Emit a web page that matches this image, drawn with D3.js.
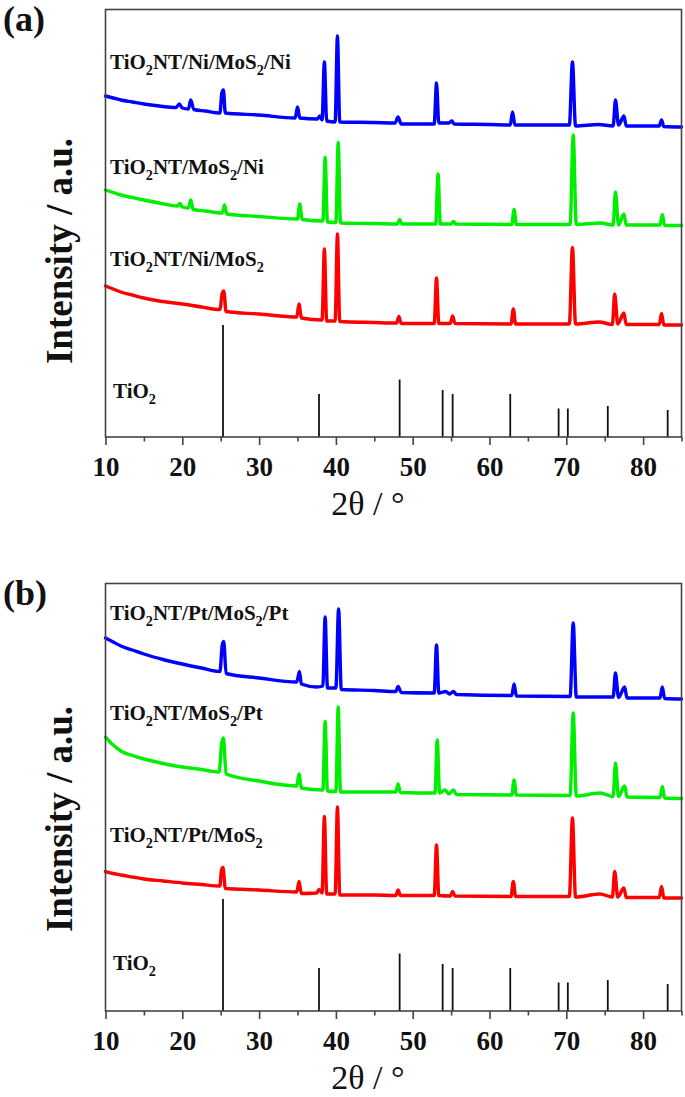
<!DOCTYPE html>
<html><head><meta charset="utf-8">
<script src="https://cdn.jsdelivr.net/npm/d3@7"></script>
<style>body{margin:0;background:#fff}svg{display:block}</style>
</head><body>
<svg id="chart" width="685" height="1097"></svg>
<script>
// ---------- data ----------
const xTicks = [10, 20, 30, 40, 50, 60, 70, 80];
const xMinorTicks = [15, 25, 35, 45, 55, 65, 75, 85];
const xTitle = "2θ / °";
const yTitle = "Intensity / a.u.";
const panelTags = ["(a)", "(b)"];
const refName = "TiO_2";
// anatase TiO2 reference sticks [2θ, intensity]
const tio2Ref = [[25.3,112],[37.8,43],[48.3,57.5],[53.9,47],[55.2,43],[62.7,43],[69.0,28.5],[70.2,28.5],[75.4,31],[83.2,27]];

// panel (a)
const namesA = ["TiO_2NT/Ni/MoS_2/Ni", "TiO_2NT/MoS_2/Ni", "TiO_2NT/Ni/MoS_2"];
const aBlue = [[10,341],[11,339],[12,337],[13.5,335],[15,333],[17,331],[19.2,329.5],[19.6,333],[20.0,329],[20.8,328],[21.1,337],[21.5,327.5],[23,326],[24.9,324],[25.15,344],[25.35,347],[25.6,324],[30,322],[34.7,319],[35.0,330],[35.3,319],[37.6,318],[37.9,321],[38.2,317],[38.5,375],[38.8,316],[39.9,315],[40.2,401],[40.5,315],[45,314.5],[47.7,314],[48.1,320],[48.5,313],[52.8,313],[53.1,354],[53.4,314],[54.7,314],[55.1,316],[55.4,313],[60,312.5],[62.7,312],[63.0,325],[63.3,312],[70.4,312],[70.8,375],[71.2,311],[74.2,312.5],[76.1,311],[76.4,337],[76.8,312],[77.5,321],[77.8,311],[82.1,311],[82.4,317],[82.7,310.5],[85,310]];
const aGreen = [[10,247],[11,244.5],[12,242],[13.5,239.5],[15,237],[17,234],[19.4,231],[19.7,233.5],[20.0,230],[20.8,229],[21.1,237],[21.4,227.5],[23,226],[25.2,224],[25.5,232],[25.8,223],[30,220.5],[35.0,218],[35.3,233],[35.6,217.5],[38.3,216],[38.6,279.5],[38.9,215],[40.0,214.5],[40.3,294.5],[40.6,214],[45,213.5],[48.0,213],[48.3,217.5],[48.6,213],[53.0,213],[53.3,263],[53.6,213],[55.0,213],[55.3,215.5],[55.6,213],[62.9,212.5],[63.2,227.5],[63.5,212.5],[70.5,212.5],[70.9,302],[71.3,212.5],[74.4,214],[76.1,212],[76.4,245],[76.8,212],[77.5,223],[77.8,212],[82.2,212],[82.5,222.5],[82.8,211.5],[85,211.5]];
const aRed = [[10,151],[11,148],[12,145],[13.5,142],[15,139],[17,136],[20,133],[22.5,130],[24.9,127.5],[25.2,144],[25.4,146],[25.7,125.5],[30,123],[34.9,120],[35.2,133],[35.5,119],[38.2,117],[38.5,188],[38.8,116],[39.9,116],[40.2,203],[40.5,115.5],[45,114.5],[47.9,114],[48.2,120.5],[48.5,113.5],[52.8,113.5],[53.1,159],[53.4,113.5],[54.9,113.5],[55.2,121],[55.5,113.5],[62.8,113],[63.1,128],[63.4,113],[70.4,113],[70.8,189.5],[71.2,113],[74.3,115],[76.0,112.5],[76.3,143],[76.7,113],[77.5,124],[77.8,112.5],[82.1,112.5],[82.4,123.5],[82.7,112],[85,112]];

// panel (b)
const namesB = ["TiO_2NT/Pt/MoS_2/Pt", "TiO_2NT/MoS_2/Pt", "TiO_2NT/Pt/MoS_2"];
const bBlue = [[10,373],[11,369],[12,365],[13.5,361],[15,357],[17.5,351.5],[20,347],[22.5,343],[24.9,339.5],[25.2,366],[25.4,369.5],[25.7,337.5],[30,333],[34.9,329],[35.25,339.5],[35.5,327],[37.5,324],[38.3,325],[38.6,394],[38.9,323],[40.0,323],[40.35,402],[40.7,321.5],[45,320.5],[47.8,319.5],[48.1,324.5],[48.5,318.5],[52.8,318],[53.1,366],[53.4,318],[54.3,319.5],[54.8,317],[55.3,319.5],[55.7,316.5],[62.9,315.5],[63.2,327],[63.5,315],[70.5,314.5],[70.9,388],[71.3,314],[76.1,314],[76.4,338],[76.8,313.5],[77.6,324],[77.9,313],[82.2,313],[82.5,324],[82.8,312.5],[85,312]];
const bGreen = [[10,274],[11,266],[12,260],[13.5,255.5],[15,252],[17.5,247.5],[20,244],[22.5,241.5],[24.8,239],[25.1,266],[25.35,273],[25.7,237],[30,230],[34.9,225],[35.2,237],[35.5,223],[38.3,221],[38.6,289.5],[38.9,220],[40.0,219.5],[40.3,304],[40.6,219],[45,219],[47.8,219],[48.1,227],[48.4,218.5],[52.9,218],[53.2,271],[53.5,218],[54.2,221],[54.7,217],[55.3,221],[55.7,216.5],[62.9,216],[63.2,231],[63.5,216],[70.5,215.5],[70.9,298],[71.3,215],[74.4,218],[76.1,214.5],[76.4,248],[76.8,214.5],[77.6,225],[77.9,214],[82.2,213.5],[82.5,224.5],[82.8,213],[85,212.5]];
const bRed = [[10,139.5],[11,137.5],[12,136],[13.5,134],[15,132],[17.5,130],[20,128],[22.5,126.5],[24.9,125],[25.1,141],[25.3,143.5],[25.6,122.5],[30,121],[34.9,119],[35.2,129.5],[35.5,117.5],[37.5,118],[37.8,121.5],[38.2,118],[38.5,194.5],[38.8,117],[39.9,117],[40.2,204],[40.5,116],[45,116],[47.8,115.5],[48.1,121],[48.4,115.5],[52.8,115.5],[53.1,166],[53.4,115.5],[54.9,115],[55.2,119.5],[55.5,115],[62.8,114.5],[63.1,129.5],[63.4,114.5],[70.4,114.5],[70.8,193],[71.2,114],[74.4,117],[76.0,114],[76.3,139.5],[76.7,114],[77.5,123],[77.8,113.5],[82.1,113.5],[82.4,124.5],[82.7,113],[85,113]];

// ---------- layout ----------
const colors = ["#0000ff", "#00ee00", "#ff0000"];
const FONT = "'Liberation Serif','Times New Roman',serif";
const panels = [
  {tag: panelTags[0], top: 9.5, series: [aBlue, aGreen, aRed], names: namesA,
   labelY: [368, 263, 171], refLabelY: 39.5, yTitleCy: 251},
  {tag: panelTags[1], top: 583.5, series: [bBlue, bGreen, bRed], names: namesB,
   labelY: [391, 291, 169.5], refLabelY: 41, yTitleCy: 819}
];
const plotH = 427.5, left = 105.5, right = 681.5;

const svg = d3.select("#chart");
const x = d3.scaleLinear().domain([10, 85]).range([left, right]);

function addName(g, str, xPos, yPos, size) {
  const t = g.append("text").attr("x", xPos).attr("y", yPos)
    .attr("font-family", FONT).attr("font-weight", "bold").attr("font-size", size)
    .attr("fill", "#111");
  const parts = str.split(/(_2)/).filter(s => s.length);
  let lowered = false;
  parts.forEach(p => {
    if (p === "_2") {
      t.append("tspan").attr("dy", 6).attr("font-size", size * 0.68).text("2");
      lowered = true;
    } else {
      const s = t.append("tspan").text(p);
      if (lowered) { s.attr("dy", -6); lowered = false; }
    }
  });
}

panels.forEach(p => {
  const bottom = p.top + plotH;
  const y = d3.scaleLinear().domain([0, plotH]).range([bottom, p.top]);
  const g = svg.append("g");

  // reference sticks
  g.selectAll("line.ref").data(tio2Ref).join("line")
    .attr("x1", d => x(d[0])).attr("x2", d => x(d[0]))
    .attr("y1", y(0)).attr("y2", d => y(d[1]))
    .attr("stroke", "#111").attr("stroke-width", 1.8);

  // patterns
  const line = d3.line().x(d => x(d[0])).y(d => y(d[1])).curve(d3.curveMonotoneX);
  p.series.forEach((s, i) => {
    g.append("path").datum(s).attr("d", line)
      .attr("fill", "none").attr("stroke", colors[i]).attr("stroke-width", 3.4)
      .attr("stroke-linejoin", "round").attr("stroke-linecap", "round");
  });

  // frame
  g.append("rect").attr("x", left).attr("y", p.top).attr("width", right - left).attr("height", plotH)
    .attr("fill", "none").attr("stroke", "#444").attr("stroke-width", 1.6);

  // axes
  const ax = g.append("g").attr("transform", `translate(0,${bottom})`)
    .call(d3.axisBottom(x).tickValues(xTicks).tickSize(8).tickPadding(12).tickFormat(d3.format("d")));
  ax.select(".domain").remove();
  ax.selectAll(".tick line").attr("stroke", "#444").attr("stroke-width", 1.6);
  ax.selectAll(".tick text").attr("font-family", FONT).attr("font-weight", "bold")
    .attr("font-size", 27).attr("fill", "#111").attr("dy", "0.71em");
  const axm = g.append("g").attr("transform", `translate(0,${bottom})`)
    .call(d3.axisBottom(x).tickValues(xMinorTicks).tickSize(4.5).tickFormat(""));
  axm.select(".domain").remove();
  axm.selectAll(".tick line").attr("stroke", "#444").attr("stroke-width", 1.6);

  // axis titles
  g.append("text").attr("x", 368).attr("y", bottom + 78).attr("text-anchor", "middle")
    .attr("font-family", FONT).attr("font-size", 34).attr("fill", "#111").text(xTitle);
  g.append("text").attr("transform", `translate(72,${p.yTitleCy}) rotate(-90)`)
    .attr("text-anchor", "middle").attr("font-family", FONT).attr("font-weight", "bold")
    .attr("font-size", 37).attr("fill", "#111").text(yTitle);

  // panel tag
  g.append("text").attr("x", 3).attr("y", p.top + 21).attr("font-family", FONT)
    .attr("font-weight", "bold").attr("font-size", 36).attr("fill", "#111").text(p.tag);

  // series names
  p.names.forEach((n, i) => addName(g, n, 110, y(p.labelY[i]), 21));
  addName(g, refName, 113, y(p.refLabelY), 21);
});
</script>
</body></html>
